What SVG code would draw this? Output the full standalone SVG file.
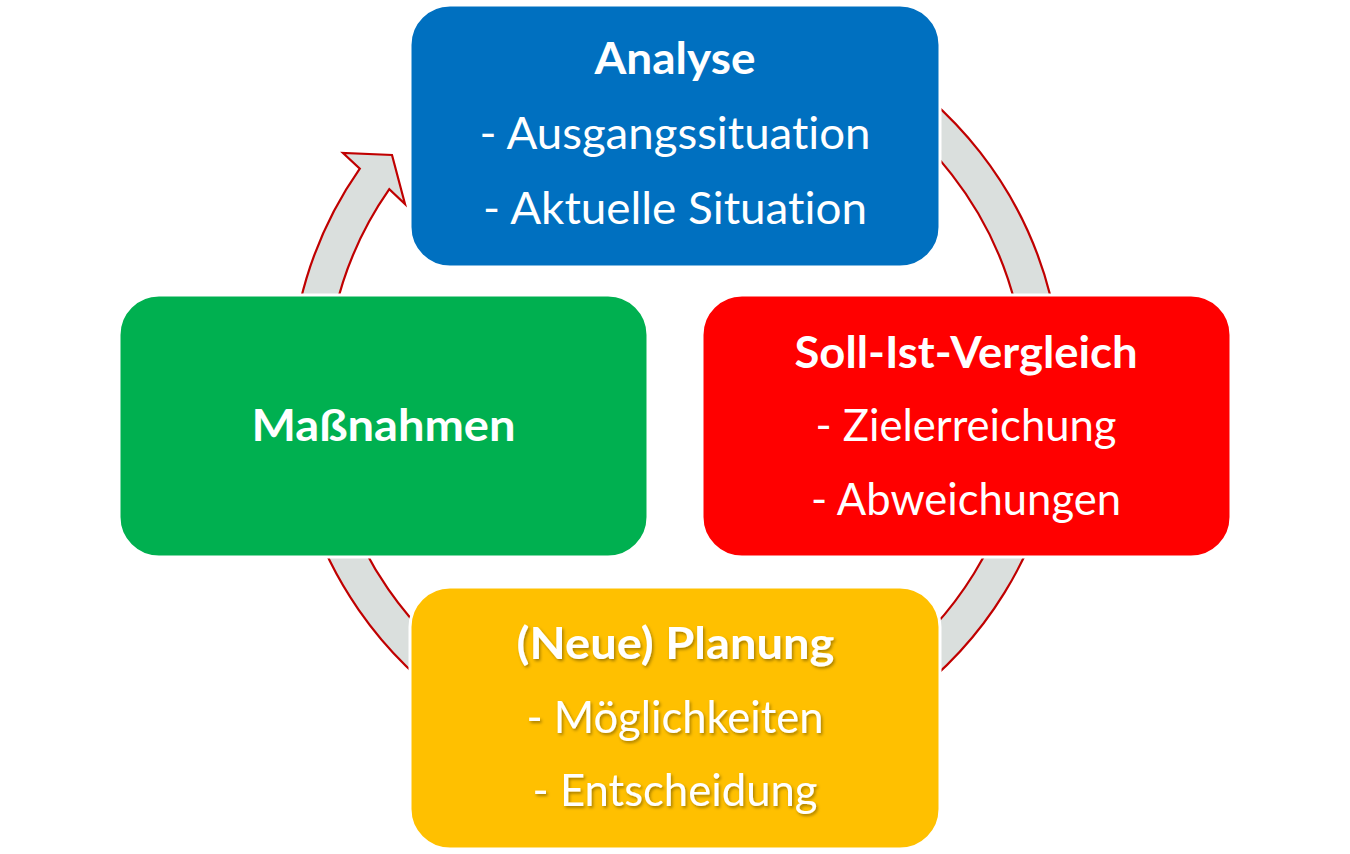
<svg xmlns="http://www.w3.org/2000/svg" width="1350" height="854" viewBox="0 0 1350 854">
<defs>
<style>
.box{stroke:#ffffff;stroke-width:3}
.t{font-family:Lato,"Open Sans","Liberation Sans",sans-serif;font-size:44px;fill:#ffffff;text-anchor:middle;font-variant-ligatures:none;font-feature-settings:"liga" 0}
.b{font-weight:bold}
.ring{fill:#dadfdd;stroke:#c00000;stroke-width:2.2;stroke-linejoin:miter}
</style>
<filter id="sh" x="-10%" y="-30%" width="120%" height="160%">
<feDropShadow dx="1.5" dy="2" stdDeviation="1.5" flood-color="#000000" flood-opacity="0.35"/>
</filter>
</defs>
<rect width="1350" height="854" fill="#ffffff"/>
<g id="connectors">
<path class="ring" d="M 869 55.7 A 386 386 0 1 1 359.8 168.6 L 343 153 L 392 155 L 405 204 L 389.3 189.2 A 350 350 0 1 0 851 86.9 Z"/>
</g>
<g id="analyse">
<rect class="box" x="410" y="5" width="530" height="262" rx="40" fill="#0070c0"/>
<text class="t b" x="675" y="74" textLength="161" lengthAdjust="spacingAndGlyphs">Analyse</text>
<text class="t" x="675" y="149" textLength="391" lengthAdjust="spacingAndGlyphs">- Ausgangssituation</text>
<text class="t" x="675" y="224" textLength="384" lengthAdjust="spacingAndGlyphs">- Aktuelle Situation</text>
</g>
<g id="soll-ist-vergleich">
<rect class="box" x="702" y="295" width="529" height="262" rx="40" fill="#ff0000"/>
<text class="t b" x="966" y="368" textLength="343" lengthAdjust="spacingAndGlyphs">Soll-Ist-Vergleich</text>
<text class="t" x="966" y="441" textLength="301" lengthAdjust="spacingAndGlyphs">- Zielerreichung</text>
<text class="t" x="966" y="515" textLength="310" lengthAdjust="spacingAndGlyphs">- Abweichungen</text>
</g>
<g id="massnahmen">
<rect class="box" x="119" y="295" width="529" height="262" rx="40" fill="#00b050"/>
<text class="t b" x="383.5" y="441" textLength="264" lengthAdjust="spacingAndGlyphs">Maßnahmen</text>
</g>
<g id="planung">
<rect class="box" x="410" y="587" width="530" height="262" rx="40" fill="#ffc000"/>
<g filter="url(#sh)">
<text class="t b" x="675.5" y="659" textLength="318" lengthAdjust="spacingAndGlyphs">(Neue) Planung</text>
<text class="t" x="675" y="733" textLength="297" lengthAdjust="spacingAndGlyphs">- Möglichkeiten</text>
<text class="t" x="675" y="806" textLength="285" lengthAdjust="spacingAndGlyphs">- Entscheidung</text>
</g>
</g>
</svg>
